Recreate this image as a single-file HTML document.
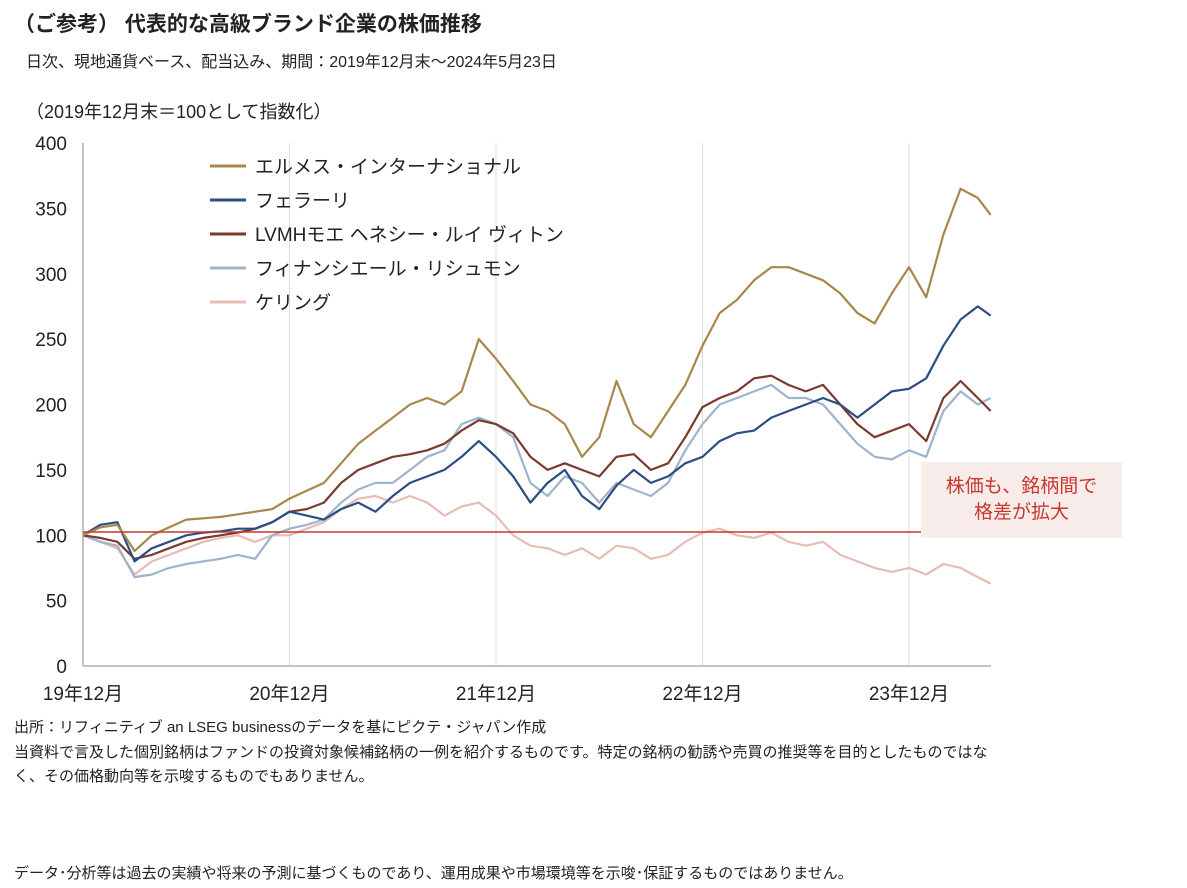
<!DOCTYPE html>
<html><head><meta charset="utf-8">
<style>
body{margin:0;background:#fff;font-family:"Liberation Sans","Noto Sans CJK JP",sans-serif;color:#222;}
.t{position:absolute;white-space:nowrap;}
</style></head>
<body>
<div style="position:relative;width:1187px;height:888px;overflow:hidden;">
<div class="t" style="left:14px;top:8px;font-size:21px;font-weight:bold;">（ご参考） 代表的な高級ブランド企業の株価推移</div>
<div class="t" style="left:26px;top:48px;font-size:16px;">日次、現地通貨ベース、配当込み、期間：2019年12月末～2024年5月23日</div>
<div class="t" style="left:26px;top:98px;font-size:18px;">（2019年12月末＝100として指数化）</div>
<svg id="chart" width="1187" height="888" style="position:absolute;left:0;top:0;"></svg>
<div style="position:absolute;left:921px;top:462px;width:201px;height:76px;background:#f8ecea;color:#c8372d;font-size:19px;text-align:center;line-height:26px;padding-top:12px;box-sizing:border-box;">株価も、銘柄間で<br>格差が拡大</div>
<div class="t" style="left:14px;top:716px;font-size:15px;">出所：リフィニティブ an LSEG businessのデータを基にピクテ・ジャパン作成</div>
<div class="t" style="left:14px;top:741px;font-size:15px;line-height:24px;">当資料で言及した個別銘柄はファンドの投資対象候補銘柄の一例を紹介するものです。特定の銘柄の勧誘や売買の推奨等を目的としたものではな<br>く、その価格動向等を示唆するものでもありません。</div>
<div class="t" style="left:14px;top:862px;font-size:15px;">データ･分析等は過去の実績や将来の予測に基づくものであり、運用成果や市場環境等を示唆･保証するものではありません。</div>
</div>
<script>
const months=[0,1,2,3,4,5,6,7,8,9,10,11,12,13,14,15,16,17,18,19,20,21,22,23,24,25,26,27,28,29,30,31,32,33,34,35,36,37,38,39,40,41,42,43,44,45,46,47,48,49,50,51,52,52.75];
const hermes=[100,106,108,88,100,106,112,113,114,116,118,120,128,134,140,155,170,180,190,200,205,200,210,250,235,218,200,195,185,160,175,218,185,175,195,215,245,270,280,295,305,305,300,295,285,270,262,285,305,282,330,365,358,345];
const ferrari=[100,108,110,80,90,95,100,102,103,105,105,110,118,115,112,120,125,118,130,140,145,150,160,172,160,145,125,140,150,130,120,138,150,140,145,155,160,172,178,180,190,195,200,205,200,190,200,210,212,220,245,265,275,268];
const lvmh=[100,98,95,82,85,90,95,98,100,102,105,110,118,120,125,140,150,155,160,162,165,170,180,188,185,178,160,150,155,150,145,160,162,150,155,175,198,205,210,220,222,215,210,215,200,185,175,180,185,172,205,218,205,195];
const richemont=[100,95,92,68,70,75,78,80,82,85,82,100,105,108,112,125,135,140,140,150,160,165,185,190,185,175,140,130,145,140,125,140,135,130,140,165,185,200,205,210,215,205,205,200,185,170,160,158,165,160,195,210,200,205];
const kering=[100,95,90,70,80,85,90,95,98,100,95,100,100,105,110,120,128,130,125,130,125,115,122,125,115,100,92,90,85,90,82,92,90,82,85,95,102,105,100,98,102,95,92,95,85,80,75,72,75,70,78,75,68,63];
const yTicks=[0,50,100,150,200,250,300,350,400];
const xTickLabels=["19年12月","20年12月","21年12月","22年12月","23年12月"];
const seriesNames=["エルメス・インターナショナル","フェラーリ","LVMHモエ ヘネシー・ルイ ヴィトン","フィナンシエール・リシュモン","ケリング"];
const colors=["#a8874a","#2c4d84","#7b3a2e","#9fb3cb","#e6bdb5"];
const NS="http://www.w3.org/2000/svg";
const svg=document.getElementById('chart');
const x0=83,x1=909,pxPerMonth=(x1-x0)/48;
const xs=m=>x0+m*pxPerMonth;
const ys=v=>666-v*(523/400);
function el(t,a){const e=document.createElementNS(NS,t);for(const k in a)e.setAttribute(k,a[k]);svg.appendChild(e);return e;}
xTickLabels.forEach((l,i)=>{
 const g=el('line',{x1:xs(i*12),x2:xs(i*12),y1:143,y2:666,stroke:i?'#dcdcdc':'#888','stroke-width':1});
 
 
 const t=el('text',{x:xs(i*12),y:700,'font-size':19,'text-anchor':'middle',fill:'#222'});
 t.textContent=l;
 
 
});
yTicks.forEach(v=>{
 const t=el('text',{x:67,y:ys(v)+7,'font-size':19,'text-anchor':'end',fill:'#222'});
 t.textContent=v;
 
 
});
const ax=el('line',{x1:83,x2:991,y1:666,y2:666,stroke:'#888'});


const data=[hermes,ferrari,lvmh,richemont,kering];
for(let s=4;s>=0;s--){
 const d=data[s].map((v,i)=>(i?'L':'M')+xs(months[i]).toFixed(1)+','+ys(v).toFixed(1)).join('');
 const p=el('path',{d:d,fill:'none',stroke:colors[s],'stroke-width':2.2,'stroke-linejoin':'round'});
 
 
}
const ref=el('line',{x1:83,x2:921,y1:532,y2:532,stroke:'#c8372d','stroke-width':1.5});


seriesNames.forEach((n,i)=>{
 const y=166+i*34;
 const l=el('line',{x1:210,x2:246,y1:y,y2:y,stroke:colors[i],'stroke-width':3});
 
 
 const t=el('text',{x:255,y:y+7,'font-size':19,fill:'#222'});
 t.textContent=n;
 
 
});
</script>
</body></html>
